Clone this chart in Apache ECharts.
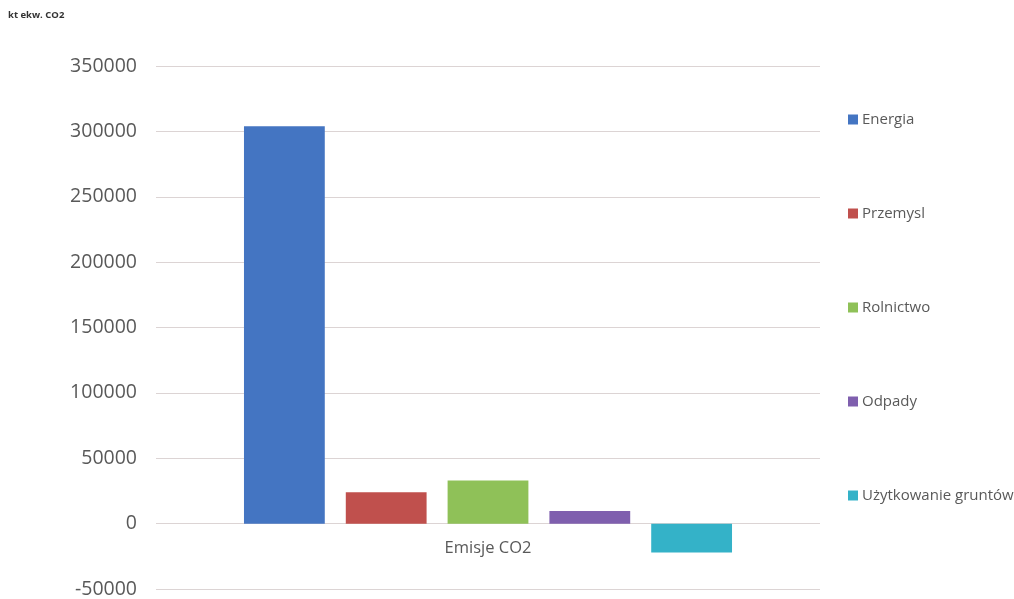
<!DOCTYPE html>
<html>
<head>
<meta charset="utf-8">
<script src="https://cdn.jsdelivr.net/npm/echarts@6/dist/echarts.min.js"></script>
<style>
  html, body { margin: 0; padding: 0; background: #ffffff; }
  #chart { width: 1014px; height: 599px; }
</style>
</head>
<body>
<div id="chart"></div>
<script>
// Greenhouse gas emissions by sector (kt CO2 equivalent)
const categories = ['Emisje CO2'];
const sectors = ['Energia', 'Przemysl', 'Rolnictwo', 'Odpady', 'Użytkowanie gruntów'];
const energia = [304000];
const przemysl = [24000];
const rolnictwo = [33000];
const odpady = [9700];
const uzytkowanie = [-22000];
const sectorValues = [energia, przemysl, rolnictwo, odpady, uzytkowanie];
const sectorColors = ['#4475c2', '#c0504d', '#8fc158', '#7f5fae', '#34b2c8'];

const chart = echarts.init(document.getElementById('chart'));
const textFont = "'Open Sans', 'Noto Sans', sans-serif";

chart.setOption({
  backgroundColor: '#ffffff',
  animation: false,
  title: {
    text: 'kt ekw. CO2',
    left: 3,
    top: 5,
    textStyle: { fontSize: 9.5, fontWeight: 'bold', color: '#333333', fontFamily: textFont }
  },
  legend: {
    orient: 'vertical',
    left: 843,
    top: 107,
    itemWidth: 10,
    itemHeight: 10,
    itemGap: 79,
    icon: 'rect',
    data: sectors,
    textStyle: { fontSize: 15, color: '#595959', fontFamily: textFont, padding: [0, 0, 0, -1] }
  },
  grid: {
    left: 156, right: 194, top: 66, bottom: 10,
    containLabel: false,
    outerBoundsMode: 'none'
  },
  xAxis: {
    type: 'category',
    data: categories,
    axisLine: { show: false },
    axisTick: { show: false },
    // category name sits just under the zero line
    axisLabel: { margin: -49, fontSize: 16.5, color: '#595959', fontFamily: textFont }
  },
  yAxis: {
    type: 'value',
    min: -50000,
    max: 350000,
    interval: 50000,
    axisLine: { show: false },
    axisTick: { show: false },
    splitLine: { lineStyle: { color: '#dcd4d4', width: 1 } },
    axisLabel: {
      margin: 19, fontSize: 19.5, color: '#595959', fontFamily: textFont,
      formatter: (v) => String(v)
    }
  },
  series: sectors.map((name, i) => ({
    name: name,
    type: 'bar',
    data: sectorValues[i],
    barGap: '26%',
    barCategoryGap: '26.5%',
    itemStyle: { color: sectorColors[i] }
  }))
});
</script>
</body>
</html>
